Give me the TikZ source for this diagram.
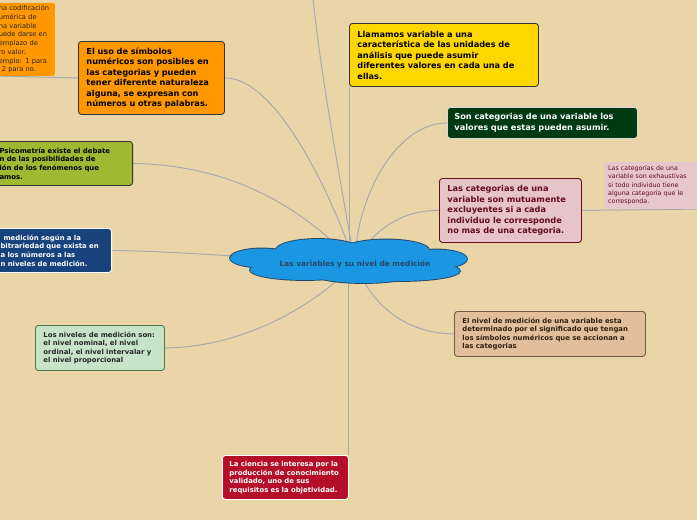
\documentclass[tikz,border=0pt]{standalone}
\usepackage{fontspec}
\setmainfont{DejaVu Sans}
\usetikzlibrary{backgrounds}
\definecolor{fondo}{RGB}{233,213,168}
\definecolor{linea}{RGB}{168,170,176}
\definecolor{nube}{RGB}{26,150,226}
\definecolor{nubeborde}{RGB}{40,70,100}
\definecolor{naranjo}{RGB}{255,152,0}
\definecolor{oro}{RGB}{255,215,0}
\definecolor{pino}{RGB}{0,58,18}
\definecolor{rosado}{RGB}{230,196,200}
\definecolor{vino}{RGB}{100,12,26}
\definecolor{cafe}{RGB}{226,190,156}
\definecolor{cafeborde}{RGB}{110,90,70}
\definecolor{carmin}{RGB}{181,14,40}
\definecolor{menta}{RGB}{200,228,200}
\definecolor{marino}{RGB}{24,66,124}
\definecolor{oliva}{RGB}{160,185,50}
\tikzset{
  tema/.style={minimum width=237pt,minimum height=44pt,inner sep=0pt,
    text=nubeborde,font=\fontsize{7.4}{8}\selectfont\bfseries},
  caja/.style={draw=black!80,line width=0.9pt,rounded corners=3pt,align=left,
    inner ysep=0pt,inner xsep=8pt,font=\fontsize{8.2}{10.5}\selectfont\bfseries},
  cajita/.style={caja,font=\fontsize{6.9}{8.6}\selectfont\bfseries},
  nota/.style={rounded corners=2pt,align=left,inner ysep=0pt,inner xsep=4pt,
    font=\fontsize{6.3}{8.4}\selectfont},
  rama/.style={draw=linea,line width=1pt},
}
% lobulos de la nube: desplazamiento y radios
\newcommand\lobulos[1]{%
  \path[#1] (centro.center) ++(-93,-6) ellipse [x radius=32pt,y radius=9.5pt];
  \path[#1] (centro.center) ++(-37,-14) ellipse [x radius=42pt,y radius=11pt];
  \path[#1] (centro.center) ++(31,-14) ellipse [x radius=43pt,y radius=10.5pt];
  \path[#1] (centro.center) ++(81,-5) ellipse [x radius=31pt,y radius=9.5pt];
  \path[#1] (centro.center) ++(-50,6) ellipse [x radius=55pt,y radius=10pt];
  \path[#1] (centro.center) ++(45,7) ellipse [x radius=60pt,y radius=10pt];
  \path[#1] (centro.center) ++(8.5,10) ellipse [x radius=50pt,y radius=9pt];
  \path[#1] (centro.center) ++(-6.5,-3) ellipse [x radius=80pt,y radius=12pt];
}
\begin{document}
\begin{tikzpicture}[x=1pt,y=-1pt]
  \useasboundingbox (0,0) rectangle (697,520);
  \clip (0,0) rectangle (697,520);
  % nodo central
  \node[tema] (centro) at (355,264) {Las variables y su nivel de medición};
  % ramas de la derecha
  \node[caja,fill=oro,anchor=north west,text width=173pt,minimum height=63pt] (amarillo) at (349,23)
    {Llamamos variable a una\\característica de las unidades de\\análisis que puede asumir\\diferentes valores en cada una de\\ellas.};
  \node[caja,fill=pino,draw=white!85!black,text=white,anchor=north west,inner xsep=7pt,
    text width=176pt,minimum height=31pt] (verde) at (447,107)
    {Son categorias de una variable los\\valores que estas pueden asumir.};
  \node[caja,fill=rosado,draw=vino,text=vino,anchor=north west,text width=126pt,minimum height=64pt] (rosa) at (439,178)
    {Las categorias de una\\variable son mutuamente\\excluyentes si a cada\\individuo le corresponde\\no mas de una categoria.};
  \node[nota,fill=rosado!95!white,text=vino,anchor=south west,text width=92pt,minimum height=47pt] (exh) at (604,209)
    {Las categorías de una\\variable son exhaustivas\\si todo individuo tiene\\alguna categoría que le\\corresponda.};
  \node[cajita,fill=cafe,draw=cafeborde,text=black!75!brown,anchor=north west,text width=175pt,minimum height=45pt] (marron) at (454,311)
    {El nivel de medición de una variable esta\\determinado por el significado que tengan\\los símbolos numéricos que se accionan a\\las categorias};
  % ramas de abajo
  \node[cajita,fill=carmin,draw=white,text=white,anchor=north west,inner xsep=7pt,text width=112pt,minimum height=44pt] (rojo) at (222,455)
    {La ciencia se interesa por la\\producción de conocimiento\\validado, uno de sus\\requisitos es la objetividad.};
  % ramas de la izquierda
  \node[cajita,fill=menta,draw=black!60!green!40!gray,text=black!85,anchor=north west,text width=113pt,minimum height=45pt] (menta) at (35,325)
    {Los niveles de medición son:\\el nivel nominal, el nivel\\ordinal, el nivel intervalar y\\el nivel proporcional};
  \node[cajita,fill=marino,draw=white,text=white,anchor=north east,text width=103pt,minimum height=44pt] (azul) at (112,228)
    {\hspace{3pt}medición según a la\\bitrariedad que exista en\\a los números a las\\n niveles de medición.};
  \node[cajita,fill=oliva,text=black,anchor=north east,text width=125pt,minimum height=44pt] (olivo) at (133,141)
    {Psicometría existe el debate\\n de las posibilidades de\\ión de los fenómenos que\\amos.};
  \node[caja,fill=naranjo,anchor=north west,text width=130pt,minimum height=73pt] (naranja) at (78,41)
    {El uso de símbolos\\numéricos son posibles en\\las categorias y pueden\\tener diferente naturaleza\\alguna, se expresan con\\números u otras palabras.};
  \node[nota,fill=naranjo,text=black!85,anchor=south east,text width=52pt,minimum height=73pt,
    font=\fontsize{6.7}{8.7}\selectfont] (codigo) at (55,76)
    {na codificación\\umérica de\\na variable\\uede darse en\\emplazo de\\ro valor.\\emplo: 1 para\\\hspace{3pt}2 para no.};
  \coordinate (arriba) at (313,-2);
  % conectores
  \begin{scope}[on background layer]
    \fill[fondo] (0,0) rectangle (697,520);
    \draw[rama] (arriba) .. controls (320,70) and (340,180) .. (centro.center);
    \draw[rama] (amarillo.south west) -- (amarillo.south west |- centro.center);
    \draw[rama] (verde.west) .. controls (395,123) and (355,200) .. (centro.center);
    \draw[rama] (rosa.west) .. controls (400,210) and (370,232) .. (centro.center);
    \draw[rama] (rosa.east) -- (exh.south east);
    \draw[rama] (marron.west) .. controls (400,333) and (370,300) .. (centro.center);
    \draw[rama] (rojo.north east) -- (rojo.north east |- centro.center);
    \draw[rama] (menta.east) .. controls (250,347) and (320,300) .. (centro.center);
    \draw[rama] (azul.east) .. controls (170,251) and (260,258) .. (centro.center);
    \draw[rama] (olivo.east) .. controls (240,165) and (310,215) .. (centro.center);
    \draw[rama] (naranja.east) .. controls (275,77) and (330,190) .. (centro.center);
    \draw[rama] (codigo.south west) -- (naranja.west);
    % nube
    \lobulos{draw=nubeborde,line width=1.8pt}
    \lobulos{fill=nube}
  \end{scope}
\end{tikzpicture}
\end{document}
